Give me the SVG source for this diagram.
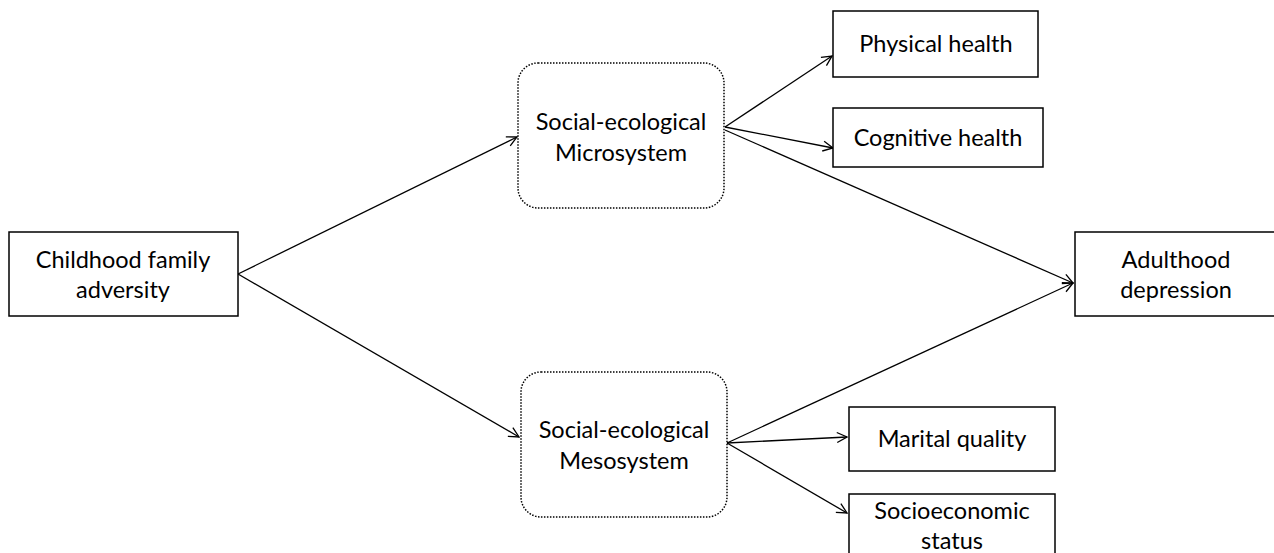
<svg xmlns="http://www.w3.org/2000/svg" width="1274" height="553" viewBox="0 0 1274 553">
<style>
.box{fill:#fff;stroke:#000;stroke-width:1.5}
.dot{fill:#fff;stroke:#000;stroke-width:1.5;stroke-dasharray:1.5 1.5}
text{font-family:Lato,"Liberation Sans",sans-serif;font-size:23.5px;fill:#000;text-anchor:middle}
.c line{stroke:#000;stroke-width:1.3;marker-end:url(#a)}
</style>
<defs>
<marker id="a" viewBox="0 0 12 12" refX="11" refY="6" markerWidth="12" markerHeight="12" markerUnits="userSpaceOnUse" orient="auto">
<path d="M1,1 L11,6 L1,11" fill="none" stroke="#000" stroke-width="1.3"/>
</marker>
</defs>
<rect width="1274" height="553" fill="#fff"/>
<g class="c" id="connectors">
<line x1="238" y1="274" x2="517" y2="137"/>
<line x1="238" y1="274" x2="519" y2="437"/>
<line x1="725" y1="127" x2="832" y2="56"/>
<line x1="725" y1="127" x2="833" y2="148"/>
<line x1="725" y1="130" x2="1073" y2="283"/>
<line x1="727" y1="443" x2="1073" y2="283"/>
<line x1="727" y1="443" x2="847" y2="437"/>
<line x1="727" y1="443" x2="847" y2="513"/>
</g>
<g id="childhood"><rect class="box" x="9" y="232" width="229" height="84"/><text x="123" y="268">Childhood family</text><text x="123" y="298">adversity</text></g>
<g id="micro"><rect class="dot" x="518" y="63" width="206" height="145" rx="20"/><text x="621" y="130">Social-ecological</text><text x="621" y="161">Microsystem</text></g>
<g id="meso"><rect class="dot" x="521" y="372" width="206" height="145" rx="20"/><text x="624" y="438">Social-ecological</text><text x="624" y="469">Mesosystem</text></g>
<g id="physical"><rect class="box" x="833" y="11" width="205" height="66"/><text x="936" y="52">Physical health</text></g>
<g id="cognitive"><rect class="box" x="833" y="108" width="210" height="59"/><text x="938" y="146">Cognitive health</text></g>
<g id="adulthood"><rect class="box" x="1075" y="232" width="210" height="84"/><text x="1176" y="268">Adulthood</text><text x="1176" y="298">depression</text></g>
<g id="marital"><rect class="box" x="849" y="407" width="206" height="64"/><text x="952" y="447">Marital quality</text></g>
<g id="ses"><rect class="box" x="849" y="494" width="206" height="70"/><text x="952" y="519">Socioeconomic</text><text x="952" y="549">status</text></g>
</svg>
